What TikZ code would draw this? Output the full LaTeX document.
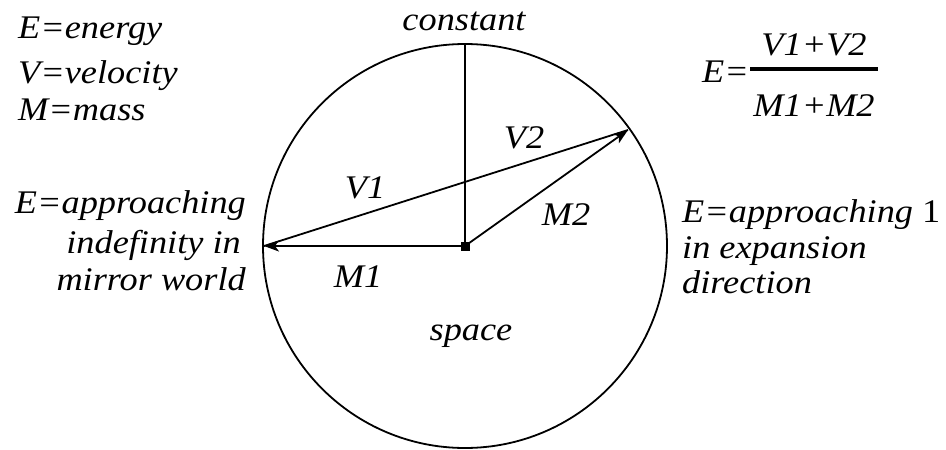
\documentclass[tikz,border=0pt]{standalone}
\usepackage{fontspec}
\setmainfont{Liberation Serif}[FakeStretch=1.1]
\usetikzlibrary{arrows.meta}
\begin{document}
\begin{tikzpicture}[x=1pt,y=-1pt,
  txt/.style={font=\itshape\fontsize{33}{40}\selectfont, inner sep=0pt},
  ln/.style={line width=1.8pt},
  tip/.style={-{Stealth[length=15pt,width=11pt,inset=4pt]}}]
\useasboundingbox (0,0) rectangle (946,450);
\coordinate (O) at (465,246);
\coordinate (T) at (465,44);
\coordinate (L) at (264,246);
\coordinate (R) at (628,130);
\draw[ln] (O) circle[radius=202pt];
\draw[ln] (O) -- (T);
\draw[ln] (L) -- (R);
\draw[ln,tip] (O) -- (L);
\draw[ln,tip] (O) -- (R);
\node[fill, minimum size=9pt, inner sep=0pt] (dot) at (O) {};
\node[txt, anchor=base] (cst) at (464,30) {constant};
\node[txt, anchor=base] (v1) at (365,198) {V1};
\node[txt, anchor=base] (v2) at (524,148) {V2};
\node[txt, anchor=base] (m1) at (358,287) {M1};
\node[txt, anchor=base] (m2) at (566,225) {M2};
\node[txt, anchor=base] (sp) at (471,340) {space};
\node[txt, anchor=base west] (e) at (18,38) {E=energy};
\node[txt, anchor=base west] (v) at (18,83) {V=velocity};
\node[txt, anchor=base west] (m) at (18,120) {M=mass};
\node[txt, anchor=base east] (l1) at (246,213) {E=approaching};
\node[txt, anchor=base east] (l2) at (241,253) {indefinity in};
\node[txt, anchor=base east] (l3) at (246,290) {mirror world};
\node[txt, anchor=base west] (r1) at (682,222) {E=approaching {\upshape 1}};
\node[txt, anchor=base west] (r2) at (682,258) {in expansion};
\node[txt, anchor=base west] (r3) at (682,293) {direction};
\node[txt, anchor=base west] (fe) at (702,82) {E=};
\coordinate (b1) at (750,69);
\coordinate (b2) at (878,69);
\draw[line width=3.5pt] (b1) -- (b2);
\node[txt, anchor=base] (num) at (814,55) {V1+V2};
\node[txt, anchor=base] (den) at (814,116) {M1+M2};
\end{tikzpicture}
\end{document}
